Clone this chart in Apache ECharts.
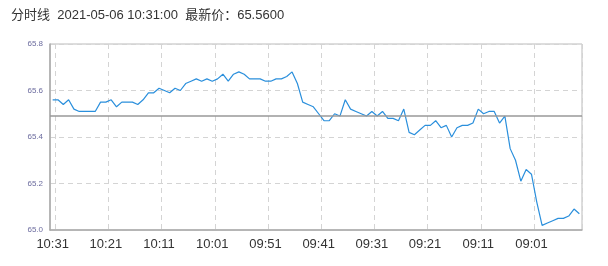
<!DOCTYPE html>
<html>
<head>
<meta charset="utf-8">
<script src="https://cdn.jsdelivr.net/npm/echarts@6/dist/echarts.min.js"></script>
<style>html,body{margin:0;padding:0;background:#fff;}#c{width:608px;height:266px;}</style>
</head>
<body>
<div id="c"></div>
<script>
var titleLabel = "分时线";
var titleTime = "2021-05-06 10:31:00";
var latestLabel = "最新价：";
var latestPrice = "65.5600";
var prevClose = 65.49;
var yMin = 65.0, yMax = 65.8, yStep = 0.2;

var times = [
"10:31","10:30","10:29","10:28","10:27","10:26","10:25","10:24","10:23","10:22",
"10:21","10:20","10:19","10:18","10:17","10:16","10:15","10:14","10:13","10:12",
"10:11","10:10","10:09","10:08","10:07","10:06","10:05","10:04","10:03","10:02",
"10:01","10:00","09:59","09:58","09:57","09:56","09:55","09:54","09:53","09:52",
"09:51","09:50","09:49","09:48","09:47","09:46","09:45","09:44","09:43","09:42",
"09:41","09:40","09:39","09:38","09:37","09:36","09:35","09:34","09:33","09:32",
"09:31","09:30","09:29","09:28","09:27","09:26","09:25","09:24","09:23","09:22",
"09:21","09:20","09:19","09:18","09:17","09:16","09:15","09:14","09:13","09:12",
"09:11","09:10","09:09","09:08","09:07","09:06","09:05","09:04","09:03","09:02",
"09:01","09:00","08:59","08:58","08:57","08:56","08:55","08:54","08:53","08:52"
];

var prices = [
65.56, 65.56, 65.54, 65.56, 65.52, 65.51, 65.51, 65.51, 65.51, 65.55,
65.55, 65.56, 65.53, 65.55, 65.55, 65.55, 65.54, 65.56, 65.59, 65.59,
65.61, 65.60, 65.59, 65.61, 65.60, 65.63, 65.64, 65.65, 65.64, 65.65,
65.64, 65.65, 65.67, 65.64, 65.67, 65.68, 65.67, 65.65, 65.65, 65.65,
65.64, 65.64, 65.65, 65.65, 65.66, 65.68, 65.63, 65.55, 65.54, 65.53,
65.50, 65.47, 65.47, 65.50, 65.49, 65.56, 65.52, 65.51, 65.50, 65.49,
65.51, 65.49, 65.51, 65.48, 65.48, 65.47, 65.52, 65.42, 65.41, 65.43,
65.45, 65.45, 65.47, 65.44, 65.45, 65.40, 65.44, 65.45, 65.45, 65.46,
65.52, 65.50, 65.51, 65.51, 65.46, 65.49, 65.35, 65.30, 65.21, 65.26,
65.24, 65.12, 65.02, 65.03, 65.04, 65.05, 65.05, 65.06, 65.09, 65.07
];

var chart = echarts.init(document.getElementById('c'), null, {renderer: 'canvas'});
chart.setOption({
  animation: false,
  title: {
    text: titleLabel + "  " + titleTime + "  " + latestLabel + latestPrice,
    left: 6, top: 4,
    textStyle: {fontSize: 13, fontWeight: 'normal', color: '#333', fontFamily: 'Liberation Sans, Noto Sans CJK SC, sans-serif'}
  },
  grid: {left: 50, right: 26, top: 44, bottom: 36, show: true, borderColor: '#bbb', borderWidth: 1, backgroundColor: 'transparent'},
  xAxis: {
    type: 'category',
    data: times,
    boundaryGap: true,
    axisLine: {lineStyle: {color: '#aaa', width: 1.5}},
    axisTick: {show: false},
    axisLabel: {
      interval: function (i) { return i % 10 === 0; },
      color: '#333', fontSize: 13, margin: 8,
      fontFamily: 'Liberation Sans, sans-serif'
    },
    splitLine: {
      show: true,
      interval: function (i) { return i % 10 === 1; },
      lineStyle: {color: '#d4d4d4', type: [5, 4], width: 1}
    }
  },
  yAxis: {
    type: 'value',
    min: yMin, max: yMax, interval: yStep,
    axisLine: {show: true, lineStyle: {color: '#aaa', width: 1.5}},
    axisTick: {show: false},
    axisLabel: {
      formatter: function (v) { return v.toFixed(1); },
      color: '#6b6b9e', fontSize: 8, margin: 7,
      fontFamily: 'Liberation Sans, sans-serif'
    },
    splitLine: {show: true, lineStyle: {color: '#d4d4d4', type: [5, 4], width: 1}}
  },
  series: [{
    type: 'line',
    data: prices,
    showSymbol: false,
    symbol: 'none',
    lineStyle: {color: '#2a8fdc', width: 1.2},
    itemStyle: {color: '#2a8fdc'},
    markLine: {
      silent: true,
      symbol: 'none',
      label: {show: false},
      lineStyle: {color: '#999', type: 'solid', width: 1.5},
      data: [{yAxis: prevClose}]
    }
  }]
});
</script>
</body>
</html>
